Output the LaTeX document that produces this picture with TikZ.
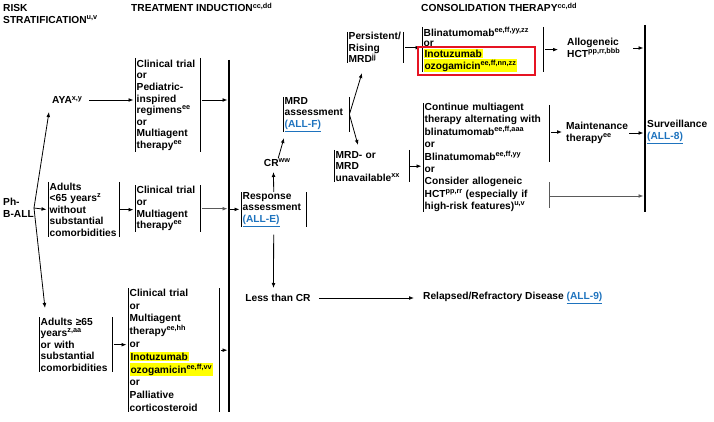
\documentclass[tikz,border=0pt]{standalone}
\usepackage{fontspec}
\setmainfont{Liberation Sans}
\usetikzlibrary{arrows.meta,calc}
\definecolor{linkblue}{RGB}{30,115,190}
\definecolor{hly}{RGB}{255,255,0}
\definecolor{redbox}{RGB}{230,20,35}
\definecolor{greyline}{RGB}{90,90,90}
\newcommand\sups[1]{\raisebox{3.8pt}{\fontsize{7.3}{7.5}\selectfont #1}}
\newcommand\hlt[1]{{\setlength{\fboxsep}{0.8pt}\colorbox{hly}{#1}}}
\newcommand\lnk[1]{\textcolor{linkblue}{\underline{#1}}}
\begin{document}
\begin{tikzpicture}[x=1pt,y=-1pt,
  every node/.style={font=\bfseries\fontsize{10.2}{11.6}\selectfont, inner sep=0pt, text=black},
  brk/.style={anchor=north west, inner xsep=1.5pt, inner ysep=0pt, align=left},
  bar/.style={line width=0.9pt},
  vline/.style={line width=1.1pt},
  arr/.style={line width=0.8pt,-{Latex[length=5pt,width=3.8pt]}, shorten >=1.5pt}]
\useasboundingbox (0,0) rectangle (714,422);

% headers
\node[anchor=north west, align=left] (hrisk) at (3,4.5) {RISK\\STRATIFICATION\sups{u,v}};
\node[anchor=base west] (htreat) at (131,12) {TREATMENT INDUCTION\sups{cc,dd}};
\node[anchor=base west] (hcons) at (421,12) {CONSOLIDATION THERAPY\sups{cc,dd}};

% risk stratification
\node[anchor=west, align=left] (ph) at (3,208) {Ph-\\B-ALL};
\node[anchor=west] (aya) at (52,100) {AYA\sups{x,y}};
\node[brk, text width=68pt, minimum height=55pt] (adlt1) at (48,182) {Adults\\<65 years\sups{z}\\without\\substantial\\comorbidities};
\node[brk, text width=70pt, minimum height=55pt] (adlt2) at (39,317) {Adults ≥65\\years\sups{z,aa}\\or with\\substantial\\comorbidities};

% induction
\node[brk, text width=62pt, minimum height=94pt] (ind1) at (135,58) {Clinical trial\\or\\Pediatric-\\inspired\\regimens\sups{ee}\\or\\Multiagent\\therapy\sups{ee}};
\node[brk, text width=62pt, minimum height=47pt] (ind2) at (135,185) {Clinical trial\\or\\Multiagent\\therapy\sups{ee}};
\node[brk, text width=88pt, minimum height=124pt, font=\bfseries\fontsize{10.2}{12.8}\selectfont] (ind3) at (128,288) {Clinical trial\\or\\Multiagent\\therapy\sups{ee,hh}\\or\\\hlt{Inotuzumab}\\\hlt{ozogamicin\sups{ee,ff,vv}}\\or\\Palliative\\corticosteroid};

% response
\node[brk, text width=62pt, minimum height=33pt] (resp) at (241,192) {Response\\assessment\\\lnk{(ALL-E)}};
\node (cr) at (277,163) {CR\sups{ww}};
\node[brk, text width=63pt, minimum height=33pt] (mrd) at (283,97) {MRD\\assessment\\\lnk{(ALL-F)}};
\node[brk, text width=53pt, minimum height=31pt] (pers) at (347,32) {Persistent/\\Rising\\MRD\sups{jj}};
\node[brk, text width=72pt, minimum height=32pt] (mrdneg) at (334,150) {MRD- or\\MRD\\unavailable\sups{xx}};
\node (lesscr) at (278,298) {Less than CR};
\node[anchor=west] (relapse) at (423,298) {Relapsed/Refractory Disease \lnk{(ALL-9)}};

% consolidation
\node[brk, text width=118pt, minimum height=43pt, font=\bfseries\fontsize{10.2}{10.5}\selectfont] (cons1) at (422,27) {Blinatumomab\sups{ee,ff,yy,zz}\\or\\\hlt{Inotuzumab}\\\hlt{ozogamicin\sups{ee,ff,nn,zz}}};
\node[brk, text width=123pt, minimum height=107pt, font=\bfseries\fontsize{10.2}{12.4}\selectfont] (cons2) at (423,103) {Continue multiagent\\therapy alternating with\\blinatumomab\sups{ee,ff,aaa}\\or\\Blinatumomab\sups{ee,ff,yy}\\or\\Consider allogeneic\\HCT\sups{pp,rr} (especially if\\high-risk features)\sups{u,v}};
\node[anchor=west, align=left] (allo) at (567,48) {Allogeneic\\HCT\sups{pp,rr,bbb}};
\node[anchor=west, align=left] (maint) at (566,133) {Maintenance\\therapy\sups{ee}};
\node[anchor=west, align=left] (surv) at (647,132) {Surveillance\\\lnk{(ALL-8)}};

% bracket bars
\foreach \n in {adlt1,adlt2,ind1,ind2,ind3,resp,mrd,pers,mrdneg,cons1}
  \draw[bar] (\n.north west) -- (\n.south west) (\n.north east) -- (\n.south east);
\draw[bar] (cons2.north west) -- (cons2.south west);
\coordinate (c2a) at (549,105);
\coordinate (c2b) at (549,162);
\coordinate (c2c) at (549,182);
\coordinate (c2d) at (549,208);
\coordinate (c2m) at (549,132);
\coordinate (c2l) at (549,196);
\draw[bar] (c2a) -- (c2b);
\draw[bar, greyline] (c2c) -- (c2d);

% long vertical lines
\coordinate (v1t) at (229,60);
\coordinate (v1b) at (229,412);
\coordinate (v2t) at (645,25);
\coordinate (v2b) at (645,212);
\draw[vline] (v1t) -- (v1b);
\draw[vline] (v2t) -- (v2b);

% connectors
\coordinate (ayaIn) at (49,112);
\coordinate (adlt2In) at (45,308);
\draw[arr, shorten >=0pt] (ph.east) -- (ayaIn);
\draw[arr, shorten >=0pt] (ph.east) -- (adlt2In);
\draw[arr] (ph.east) -- (adlt1.west);
\draw[arr, shorten <=7pt] (aya.east) -- (aya.east -| ind1.west);
\draw[arr, shorten <=2pt] (aya.east -| ind1.east) -- (aya.east -| v1t);
\draw[arr, shorten <=1pt] (adlt1.east) -- (adlt1.east -| ind2.west);
\draw[arr, greyline, shorten <=2pt] (ind2.east) -- (ind2.east -| v1t);
\draw[arr, shorten <=1.5pt] (adlt2.east) -- (adlt2.east -| ind3.west);
\draw[arr, shorten <=1.5pt] (ind3.east) -- (ind3.east -| v1t);
\draw[arr, shorten <=1pt] (resp.west -| v1t) -- (resp.west);

\coordinate (crIn) at (273.5,172);
\coordinate (lessIn) at (273.5,288);
\coordinate (mrdIn) at (284,138);
\coordinate (persIn) at (362,73);
\coordinate (negIn) at (358,145);
\draw[arr, shorten >=0pt] (resp.north) -- (crIn);
\draw[arr, shorten <=8pt, shorten >=0pt] (resp.south) -- (lessIn);
\draw[arr, shorten <=8pt, shorten >=9pt] (lesscr.east) -- (relapse.west);
\draw[arr, shorten <=1pt, shorten >=0pt] ([xshift=1pt]cr.north) -- (mrdIn);
\draw[arr, shorten <=1pt, shorten >=0pt] (mrd.east) -- (persIn);
\draw[arr, shorten <=1pt, shorten >=0pt] (mrd.east) -- (negIn);
\draw[arr, shorten <=2pt] (pers.east) -- (pers.east -| cons1.west);
\draw[arr, shorten <=2pt, shorten >=9pt] (cons1.east) -- (cons1.east -| allo.west);
\draw[arr, shorten <=13pt] (allo.east) -- (allo.east -| v2t);
\draw[arr, shorten <=1pt] (mrdneg.east) -- (mrdneg.east -| cons2.west);
\draw[arr, shorten <=2pt, shorten >=4pt] (c2m) -- (c2m -| maint.west);
\draw[arr, shorten <=1pt] (maint.east) -- (maint.east -| v2t);
\draw[arr, greyline] (c2l) -- (c2l -| v2t);

% red frame
\draw[redbox, line width=2.3pt] (418,47) rectangle (535,75);
\end{tikzpicture}
\end{document}
